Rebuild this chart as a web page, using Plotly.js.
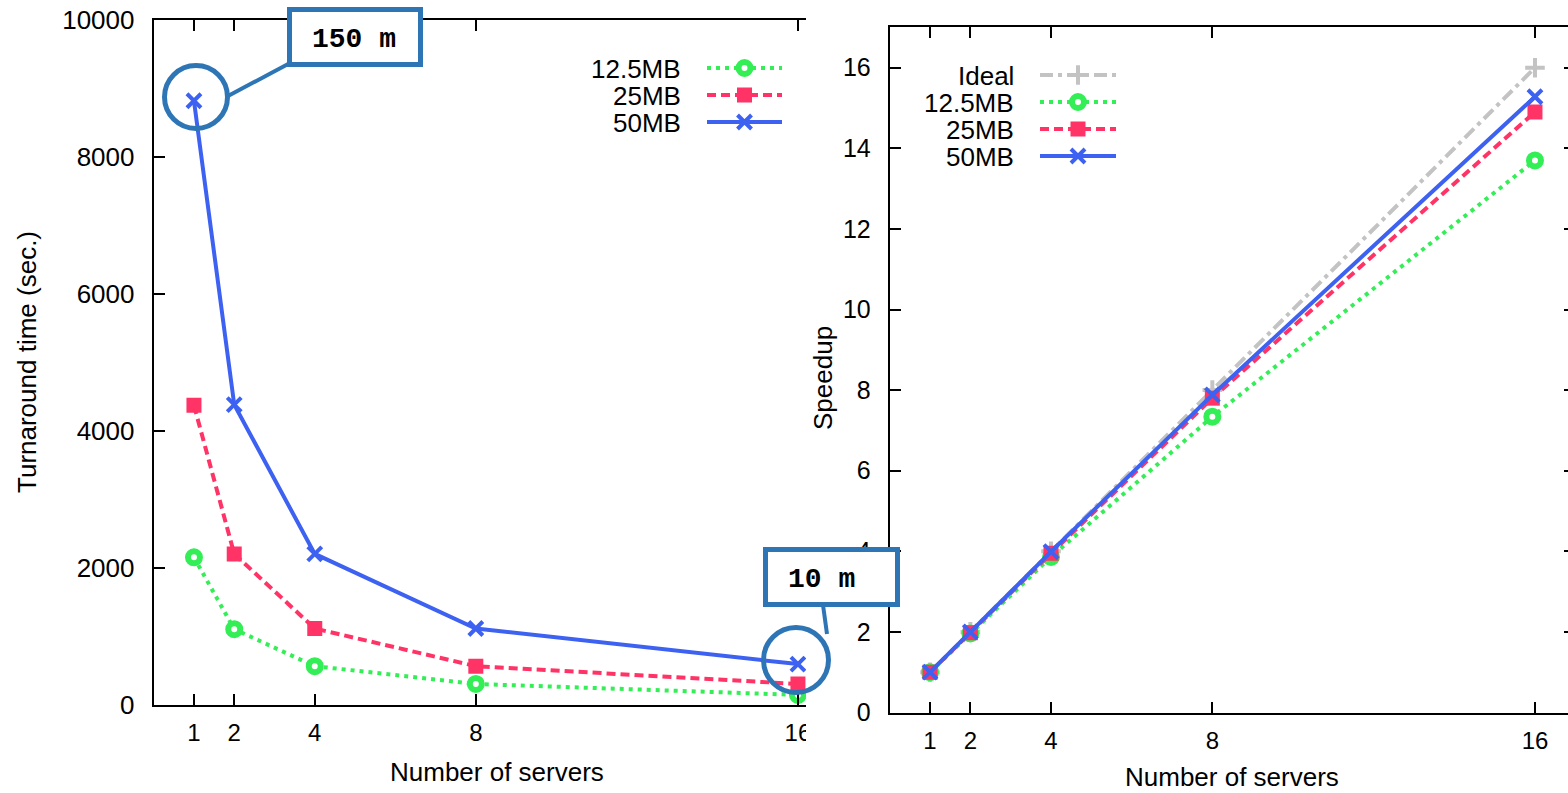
<!DOCTYPE html>
<html>
<head>
<meta charset="utf-8">
<script src="https://cdn.plot.ly/plotly-3.0.1.min.js"></script>
<style>
html,body{margin:0;padding:0;overflow:hidden;background:#ffffff}
#chart{width:1580px;height:793px}
</style>
</head>
<body>
<div id="chart"></div>
<script>
// ---------------- data ----------------
const servers = [1, 2, 4, 8, 16];
const serverTicks = [1, 2, 4, 8, 16];
const turnaroundTicks = [0, 2000, 4000, 6000, 8000, 10000];
const speedupTicks = [0, 2, 4, 6, 8, 10, 12, 14, 16];

const turnaroundNames = ['12.5MB', '25MB', '50MB'];
const time12_5MB = [2150, 1100, 560, 300, 140];
const time25MB = [4370, 2200, 1110, 560, 300];
const time50MB = [8820, 4380, 2200, 1110, 590];

const speedupNames = ['Ideal', '12.5MB', '25MB', '50MB'];
const speedIdeal = [1, 2, 4, 8, 16];
const speed12_5MB = [1, 1.96, 3.86, 7.34, 13.7];
const speed25MB = [1, 1.98, 3.95, 7.8, 14.9];
const speed50MB = [1, 2.0, 3.99, 7.88, 15.28];

const callout1Text = '150 m';
const callout2Text = '10 m';

// ---------------- styles ----------------
const W = 1580, H = 793;
const FONT = 'Liberation Sans, Arial, Helvetica, sans-serif';
const CALLOUT = '#2e75b6';
const styles = {
  'Ideal': {
    line: {color: '#c3c3c3', width: 4, dash: '13px,5px,4px,5px'},
    marker: {symbol: 'cross-thin-open', size: 14, color: '#c3c3c3', line: {color: '#c3c3c3', width: 4}}
  },
  '12.5MB': {
    line: {color: '#33ee55', width: 4, dash: '4px,5px'},
    marker: {symbol: 'circle', size: 12, color: '#ffffff', line: {color: '#33ee55', width: 6}}
  },
  '25MB': {
    line: {color: '#ff3366', width: 4, dash: '9px,5px'},
    marker: {symbol: 'square', size: 15, color: '#ff3366', line: {width: 0}}
  },
  '50MB': {
    line: {color: '#3d62f2', width: 4},
    marker: {symbol: 'x-thin-open', size: 14, color: '#3d62f2', line: {color: '#3d62f2', width: 4}}
  }
};

function series(name, xs, ys, xa, ya) {
  const s = styles[name];
  return {
    type: 'scatter', mode: 'lines+markers', name: name, x: xs, y: ys,
    xaxis: xa, yaxis: ya, line: s.line, marker: s.marker, showlegend: false, cliponaxis: true
  };
}

const traces = [];
const leftData = {'12.5MB': time12_5MB, '25MB': time25MB, '50MB': time50MB};
turnaroundNames.forEach(n => traces.push(series(n, servers, leftData[n], 'x', 'y')));
const rightData = {'Ideal': speedIdeal, '12.5MB': speed12_5MB, '25MB': speed25MB, '50MB': speed50MB};
speedupNames.forEach(n => traces.push(series(n, servers, rightData[n], 'x2', 'y2')));

// ---------------- custom gnuplot-style legends (pixel overlay axis x3/y3) ----------------
const annotations = [];
function legendItem(name, textRight, xl0, xl1, yc) {
  const s = styles[name];
  traces.push({type: 'scatter', mode: 'lines', x: [xl0, xl1], y: [yc, yc], xaxis: 'x3', yaxis: 'y3',
    line: s.line, showlegend: false, hoverinfo: 'skip'});
  traces.push({type: 'scatter', mode: 'markers', x: [(xl0 + xl1) / 2], y: [yc], xaxis: 'x3', yaxis: 'y3',
    marker: s.marker, showlegend: false, hoverinfo: 'skip'});
  annotations.push({xref: 'x3', yref: 'y3', x: textRight, y: yc, text: name, showarrow: false,
    xanchor: 'right', yanchor: 'middle', height: 25, valign: 'middle',
    font: {family: FONT, size: 26, color: '#000'}});
}
const leftLegendY = [68, 95, 122];
turnaroundNames.forEach((n, i) => legendItem(n, 683, 707, 782, leftLegendY[i]));
const rightLegendY = [75, 102, 129, 156];
speedupNames.forEach((n, i) => legendItem(n, 1016, 1040, 1116, rightLegendY[i]));

// axis titles
const titleFont = {family: FONT, size: 26, color: '#000'};
annotations.push({xref: 'x3', yref: 'y3', x: 497, y: 772, text: 'Number of servers', showarrow: false,
  xanchor: 'center', yanchor: 'middle', font: titleFont});
annotations.push({xref: 'x3', yref: 'y3', x: 1232, y: 777, text: 'Number of servers', showarrow: false,
  xanchor: 'center', yanchor: 'middle', font: titleFont});
annotations.push({xref: 'x3', yref: 'y3', x: 27, y: 362, text: 'Turnaround time (sec.)', showarrow: false,
  textangle: -90, xanchor: 'center', yanchor: 'middle', font: titleFont});
annotations.push({xref: 'x3', yref: 'y3', x: 823, y: 378, text: 'Speedup', showarrow: false,
  textangle: -90, xanchor: 'center', yanchor: 'middle', font: titleFont});

// callout texts
const calloutFont = {family: 'Liberation Mono, Courier New, monospace', size: 28, color: '#000'};
annotations.push({xref: 'x3', yref: 'y3', x: 354, y: 39, text: '<b>' + callout1Text + '</b>', showarrow: false,
  xanchor: 'center', yanchor: 'middle', font: calloutFont});
annotations.push({xref: 'x3', yref: 'y3', x: 821, y: 579, text: '<b>' + callout2Text + '</b>', showarrow: false,
  xanchor: 'center', yanchor: 'middle', font: calloutFont});

// ---------------- shapes ----------------
const shapes = [
  // the left figure is cut off at its right side in the reference
  {type: 'rect', xref: 'x3', yref: 'y3', x0: 806, x1: 844, y0: 0, y1: 793, layer: 'above',
    fillcolor: '#ffffff', line: {width: 0}},
  // callout 1
  {type: 'line', xref: 'x3', yref: 'y3', x0: 290, y0: 63, x1: 228, y1: 96, layer: 'above',
    line: {color: CALLOUT, width: 4}},
  {type: 'circle', xref: 'x3', yref: 'y3', x0: 164.5, x1: 227.5, y0: 65.5, y1: 128.5, layer: 'above',
    line: {color: CALLOUT, width: 5}},
  {type: 'rect', xref: 'x3', yref: 'y3', x0: 289.5, x1: 420.5, y0: 9.5, y1: 64.5, layer: 'above',
    fillcolor: '#ffffff', line: {color: CALLOUT, width: 5}},
  // callout 2
  {type: 'line', xref: 'x3', yref: 'y3', x0: 823, y0: 605, x1: 827, y1: 634, layer: 'above',
    line: {color: CALLOUT, width: 4}},
  {type: 'circle', xref: 'x3', yref: 'y3', x0: 763.5, x1: 828.5, y0: 627.5, y1: 692.5, layer: 'above',
    line: {color: CALLOUT, width: 5}},
  {type: 'rect', xref: 'x3', yref: 'y3', x0: 765.5, x1: 897.5, y0: 549.5, y1: 604.5, layer: 'above',
    fillcolor: '#ffffff', line: {color: CALLOUT, width: 5}}
];

// ---------------- axes ----------------
function axisBase(extra) {
  return Object.assign({
    showgrid: false, zeroline: false, showline: true, linecolor: '#000', linewidth: 2,
    ticks: 'inside', ticklen: 11, tickwidth: 2, tickcolor: '#000', mirror: 'ticks',
    fixedrange: true, color: '#000'
  }, extra);
}

const layout = {
  width: W, height: H,
  margin: {l: 0, r: 0, t: 0, b: 0, pad: 0},
  paper_bgcolor: '#ffffff', plot_bgcolor: 'rgba(0,0,0,0)',
  showlegend: false, hovermode: false,
  xaxis: axisBase({domain: [153.7 / W, 838.2 / W], range: [0, 17], anchor: 'y',
    tickmode: 'array', tickvals: serverTicks, ticktext: serverTicks.map(String),
    tickfont: {family: FONT, size: 24, color: '#000'}, ticklabelstandoff: 6}),
  yaxis: axisBase({domain: [(H - 704.5) / H, (H - 20) / H], range: [0, 10000], anchor: 'x',
    tickmode: 'array', tickvals: turnaroundTicks, ticktext: turnaroundTicks.map(String),
    tickfont: {family: FONT, size: 26, color: '#000'}, ticklabelstandoff: 12}),
  xaxis2: axisBase({domain: [889.7 / W, 1575.3 / W], range: [0, 17], anchor: 'y2',
    tickmode: 'array', tickvals: serverTicks, ticktext: serverTicks.map(String),
    tickfont: {family: FONT, size: 24, color: '#000'}, ticklabelstandoff: 6}),
  yaxis2: axisBase({domain: [(H - 712.5) / H, (H - 27.4) / H], range: [0, 17], anchor: 'x2',
    tickmode: 'array', tickvals: speedupTicks, ticktext: speedupTicks.map(String),
    tickfont: {family: FONT, size: 25, color: '#000'}, ticklabelstandoff: 12}),
  xaxis3: {domain: [0, 1], range: [0, W], visible: false, fixedrange: true, anchor: 'y3'},
  yaxis3: {domain: [0, 1], range: [H, 0], visible: false, fixedrange: true, anchor: 'x3'},
  annotations: annotations,
  shapes: shapes
};

Plotly.newPlot('chart', traces, layout, {staticPlot: true, displayModeBar: false});
</script>
</body>
</html>
